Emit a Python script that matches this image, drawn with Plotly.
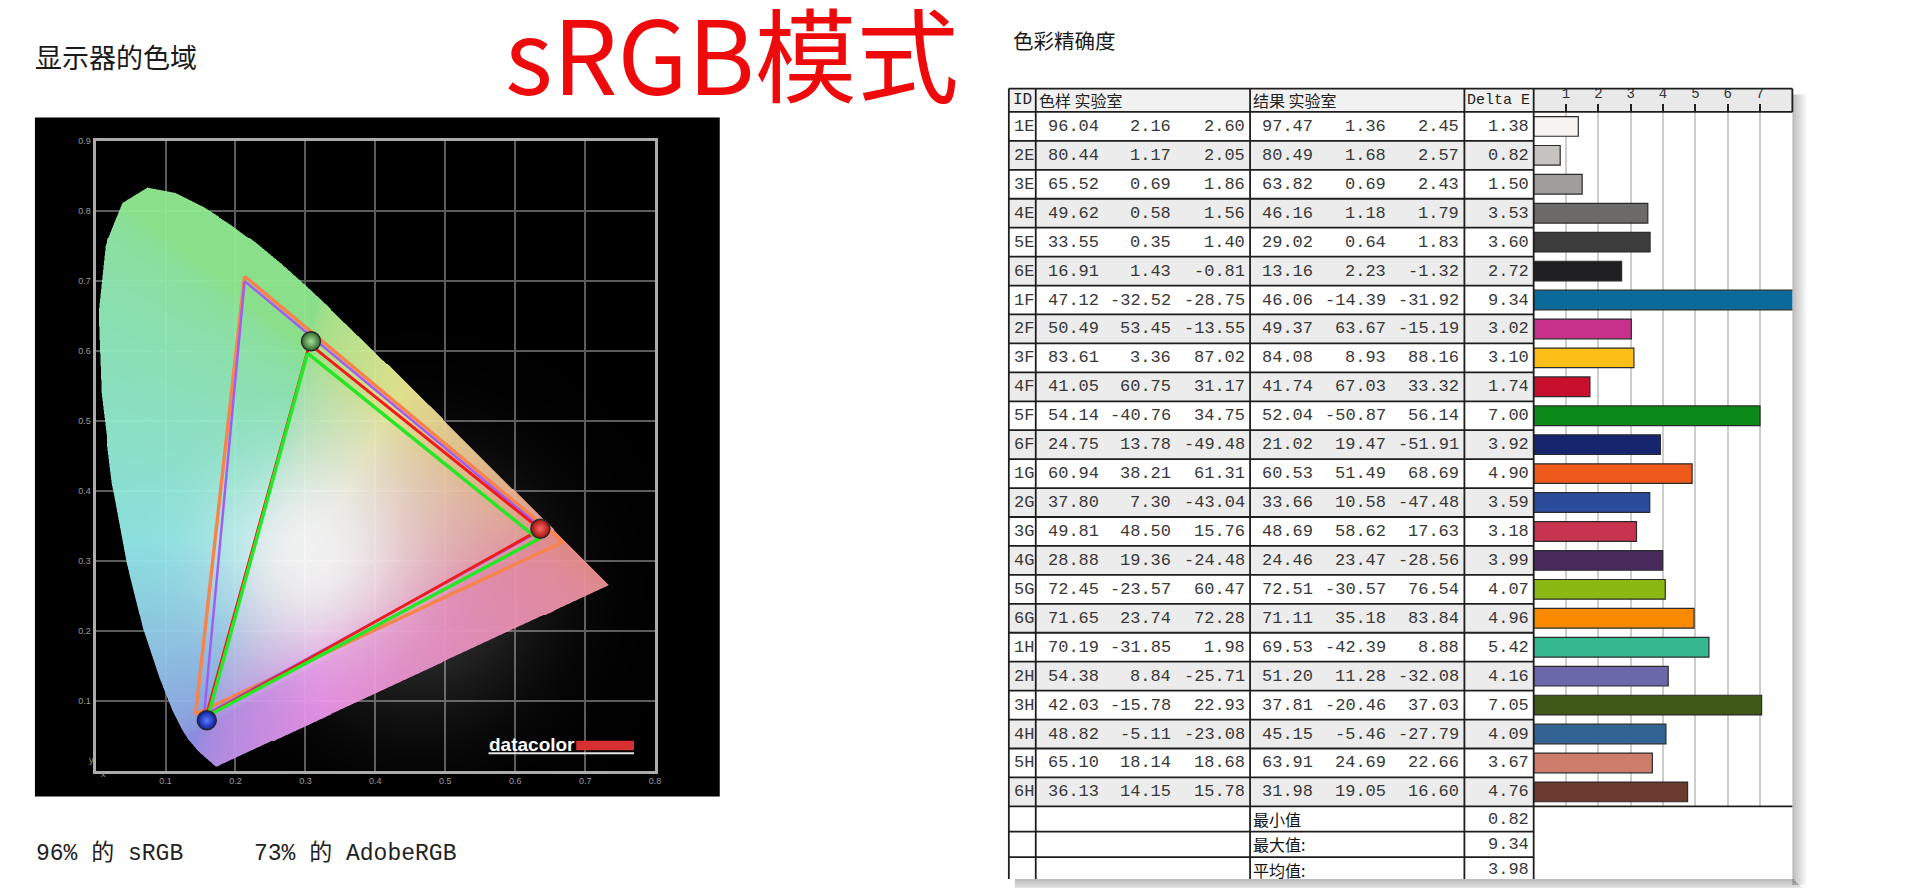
import base64, struct, zlib
import numpy as np
import plotly.graph_objects as go

# page is 1920x896; the html body keeps an 8px margin, so the figure is drawn 8px in
PAGE_W, PAGE_H, OFF = 1920, 896, 8
W, H = PAGE_W - 2 * OFF, PAGE_H - 2 * OFF

# ---------------- data: gamut chart ----------------
# CIE 1931 spectral locus, 380-700 nm
locus_x = [0.1741,0.1740,0.1738,0.1736,0.1733,0.1730,0.1726,0.1721,0.1714,0.1703,
           0.1689,0.1669,0.1644,0.1611,0.1566,0.1510,0.1440,0.1355,0.1241,0.1096,
           0.0913,0.0687,0.0454,0.0235,0.0082,0.0039,0.0139,0.0389,0.0743,0.1142,
           0.1547,0.1929,0.2296,0.2658,0.3016,0.3373,0.3731,0.4087,0.4441,0.4788,
           0.5125,0.5448,0.5752,0.6029,0.6270,0.6482,0.6658,0.6801,0.6915,0.7006,
           0.7079,0.7140,0.7190,0.7230,0.7260,0.7283,0.7300,0.7311,0.7320,
           0.7334,0.7344,0.7347]
locus_y = [0.0050,0.0050,0.0049,0.0049,0.0048,0.0048,0.0048,0.0048,0.0051,0.0058,
           0.0069,0.0086,0.0109,0.0138,0.0177,0.0227,0.0297,0.0399,0.0578,0.0868,
           0.1327,0.2007,0.2950,0.4127,0.5384,0.6548,0.7502,0.8120,0.8338,0.8262,
           0.8059,0.7816,0.7543,0.7243,0.6923,0.6589,0.6245,0.5896,0.5547,0.5202,
           0.4866,0.4544,0.4242,0.3965,0.3725,0.3514,0.3340,0.3197,0.3083,0.2993,
           0.2920,0.2859,0.2809,0.2770,0.2740,0.2717,0.2700,0.2689,0.2680,
           0.2666,0.2656,0.2653]

orange_x = [0.213, 0.668, 0.143]
orange_y = [0.707, 0.327, 0.081]
purple_x = [0.213, 0.640, 0.155]
purple_y = [0.700, 0.345, 0.079]
red_x = [0.306, 0.636, 0.158]
red_y = [0.610, 0.345, 0.078]
green_x = [0.303, 0.633, 0.161]
green_y = [0.597, 0.331, 0.079]

ball_x = [0.636, 0.308, 0.159]
ball_y = [0.346, 0.614, 0.072]
ball_edge = ["#a01010", "#2c6a2c", "#0c1c9a"]
ball_core = ["#ff6a60", "#a8e098", "#5a7cff"]

gamut_x_ticks = [0.1, 0.2, 0.3, 0.4, 0.5, 0.6, 0.7, 0.8]
gamut_y_ticks = [0.1, 0.2, 0.3, 0.4, 0.5, 0.6, 0.7, 0.8, 0.9]
gamut_coverage = ["96% 的 sRGB", "73% 的 AdobeRGB"]

# ---------------- data: colour accuracy table ----------------
ids = ["1E","2E","3E","4E","5E","6E","1F","2F","3F","4F","5F","6F",
       "1G","2G","3G","4G","5G","6G","1H","2H","3H","4H","5H","6H"]
ref_L = [96.04,80.44,65.52,49.62,33.55,16.91,47.12,50.49,83.61,41.05,54.14,24.75,
         60.94,37.80,49.81,28.88,72.45,71.65,70.19,54.38,42.03,48.82,65.10,36.13]
ref_a = [2.16,1.17,0.69,0.58,0.35,1.43,-32.52,53.45,3.36,60.75,-40.76,13.78,
         38.21,7.30,48.50,19.36,-23.57,23.74,-31.85,8.84,-15.78,-5.11,18.14,14.15]
ref_b = [2.60,2.05,1.86,1.56,1.40,-0.81,-28.75,-13.55,87.02,31.17,34.75,-49.48,
         61.31,-43.04,15.76,-24.48,60.47,72.28,1.98,-25.71,22.93,-23.08,18.68,15.78]
res_L = [97.47,80.49,63.82,46.16,29.02,13.16,46.06,49.37,84.08,41.74,52.04,21.02,
         60.53,33.66,48.69,24.46,72.51,71.11,69.53,51.20,37.81,45.15,63.91,31.98]
res_a = [1.36,1.68,0.69,1.18,0.64,2.23,-14.39,63.67,8.93,67.03,-50.87,19.47,
         51.49,10.58,58.62,23.47,-30.57,35.18,-42.39,11.28,-20.46,-5.46,24.69,19.05]
res_b = [2.45,2.57,2.43,1.79,1.83,-1.32,-31.92,-15.19,88.16,33.32,56.14,-51.91,
         68.69,-47.48,17.63,-28.56,76.54,83.84,8.88,-32.08,37.03,-27.79,22.66,16.60]
delta_e = [1.38,0.82,1.50,3.53,3.60,2.72,9.34,3.02,3.10,1.74,7.00,3.92,
           4.90,3.59,3.18,3.99,4.07,4.96,5.42,4.16,7.05,4.09,3.67,4.76]
bar_colors = ["#f6f3f0","#c6c3c1","#a09e9c","#6b6a69","#3e3d3d","#1f1f21",
              "#0a6b9b","#c8318b","#fdbf17","#c8102e","#0b8a1a","#15256e",
              "#ee5a1c","#2a4c9a","#c8334f","#4a2a5c","#8cb814","#fb8a00",
              "#35b88e","#6a67aa","#3f5a18","#336393","#cf7d6b","#6a3a30"]
header_labels = ["ID", "色样 实验室", "结果 实验室", "Delta E"]
summary_labels = ["最小值", "最大值:", "平均值:"]
summary_values = [0.82, 9.34, 3.98]
bar_ticks = [1, 2, 3, 4, 5, 6, 7]

# ---------------- layout constants (page pixels) ----------------
MONO = "Liberation Mono, DejaVu Sans Mono, monospace"
CJK = "Noto Sans CJK SC"
GX0, GX1 = 95, 658          # gamut plot frame x
GY0, GY1 = 770, 137         # gamut plot y (value 0 / value 0.9)
X_MAX, Y_MAX = 0.8, 0.9

TL = [1012, 1039, 1254, 1469, 1538.5, 1798]   # table column borders
HEAD_TOP = 84
ROW_TOP = 107.5
ROW_H = 29.1
ROW_BOTTOM = ROW_TOP + len(ids) * ROW_H
SUM_H = 25.5
TABLE_BOTTOM = 879
NUM_RIGHT = [1104, 1177, 1251, 1319.5, 1392.5, 1466, 1536]


def px(x):
    return (x - OFF) / W


def py(y):
    return 1 - (y - OFF) / H


# ---------------- chromaticity background image ----------------
NX, NY, SS = 564, 634, 2
pdx, pdy = X_MAX / NX, Y_MAX / NY
sx = (np.arange(NX * SS) + 0.5) * (pdx / SS)
sy = Y_MAX - (np.arange(NY * SS) + 0.5) * (pdy / SS)
SX, SY = np.meshgrid(sx, sy)
inside = np.zeros(SX.shape, dtype=bool)
lx, ly = np.asarray(locus_x), np.asarray(locus_y)
for i in range(len(lx)):
    x1, y1, x2, y2 = lx[i], ly[i], lx[i - 1], ly[i - 1]
    if y1 == y2:
        continue
    cond = (y1 > SY) != (y2 > SY)
    xint = x1 + (SY - y1) * (x2 - x1) / (y2 - y1)
    inside ^= cond & (SX < xint)
cov = inside.reshape(NY, SS, NX, SS).mean(axis=(1, 3))

cx = (np.arange(NX) + 0.5) * pdx
cy = Y_MAX - (np.arange(NY) + 0.5) * pdy
CX, CY = np.meshgrid(cx, cy)
Ys = np.maximum(CY, 1e-4)
Xc = CX / Ys
Zc = (1 - CX - CY) / Ys
r = 3.2406 * Xc - 1.5372 - 0.4986 * Zc
g = -0.9689 * Xc + 1.8758 + 0.0415 * Zc
b = 0.0557 * Xc - 0.2040 + 1.0570 * Zc
rgb = np.clip(np.stack([r, g, b], -1), 0, None)
rgb = rgb / np.maximum(rgb.max(-1, keepdims=True), 1e-6)
rgb = rgb ** (1 / 2.2)
rgb = 1 - (1 - rgb) * 0.38
rgb *= 0.92
glow = 0.95 * np.exp(-((CX - 0.31) ** 2 + (CY - 0.31) ** 2) / (2 * 0.09 ** 2))
rgb = rgb + (1 - rgb) * glow[..., None]
haze = 0.22 * np.exp(-((CX - 0.46) ** 2 + (CY - 0.26) ** 2) / (2 * 0.12 ** 2))
a_in = 0.95 * cov
a_h = (1 - cov) * haze
alpha = a_in + a_h
col = (rgb * a_in[..., None] + a_h[..., None]) / np.maximum(alpha, 1e-6)[..., None]
rgba = np.concatenate([col, alpha[..., None]], -1)
rgba = np.clip(np.round(rgba * 255), 0, 255).astype(np.uint8)
rgba = np.ascontiguousarray(rgba[::-1])   # plotly flips rows for a negative dy


def png_uri(arr):
    h, w, _ = arr.shape
    raw = b"".join(b"\x00" + arr[i].tobytes() for i in range(h))

    def chunk(t, d):
        return struct.pack(">I", len(d)) + t + d + struct.pack(">I", zlib.crc32(t + d) & 0xFFFFFFFF)

    data = (b"\x89PNG\r\n\x1a\n" + chunk(b"IHDR", struct.pack(">IIBBBBB", w, h, 8, 6, 0, 0, 0))
            + chunk(b"IDAT", zlib.compress(raw, 9)) + chunk(b"IEND", b""))
    return "data:image/png;base64," + base64.b64encode(data).decode()


fig = go.Figure()

fig.add_trace(go.Image(source=png_uri(rgba), x0=pdx / 2, y0=Y_MAX - pdy / 2, dx=pdx, dy=-pdy,
                       xaxis="x", yaxis="y", hoverinfo="skip"))

for xs, ys, c, w in [(orange_x, orange_y, "#f7844f", 3.5), (purple_x, purple_y, "#a25cf2", 2.5),
                     (red_x, red_y, "#f01c1c", 3.0), (green_x, green_y, "#27e627", 3.5)]:
    fig.add_trace(go.Scatter(x=xs + xs[:1], y=ys + ys[:1], mode="lines",
                             line=dict(color=c, width=w), xaxis="x", yaxis="y", hoverinfo="skip"))

fig.add_trace(go.Scatter(x=ball_x, y=ball_y, mode="markers", xaxis="x", yaxis="y",
                         marker=dict(size=19, color=ball_edge,
                                     gradient=dict(type="radial", color=ball_core),
                                     line=dict(color="#2a2a2a", width=1.5)),
                         hoverinfo="skip"))

# ---------------- table traces ----------------
row_fill = ["#ffffff" if i % 2 == 0 else "#ececec" for i in range(len(ids))]
fig.add_trace(go.Bar(y=ids, x=[TL[4] - TL[0]] * len(ids), base=[TL[0]] * len(ids),
                     orientation="h", width=1.0, marker=dict(color=row_fill, line=dict(width=0)),
                     xaxis="x2", yaxis="y2", hoverinfo="skip"))

fig.add_trace(go.Bar(y=ids, x=delta_e, orientation="h", width=0.68,
                     marker=dict(color=bar_colors, line=dict(color="#2b2b2b", width=1.2)),
                     xaxis="x3", yaxis="y3", hoverinfo="skip"))

annotations = []
shapes = []

# black chart background
shapes.append(dict(type="rect", xref="paper", yref="paper", x0=px(35), x1=px(722), y0=py(796), y1=py(113),
                   fillcolor="black", line=dict(width=0), layer="below"))

# table header fills
shapes.append(dict(type="rect", xref="paper", yref="paper", x0=px(TL[0]), x1=px(TL[4]), y0=py(ROW_TOP), y1=py(HEAD_TOP),
                   fillcolor="#f1f1f1", line=dict(width=0), layer="below"))
shapes.append(dict(type="rect", xref="paper", yref="paper", x0=px(TL[4]), x1=px(TL[5]), y0=py(ROW_TOP), y1=py(HEAD_TOP),
                   fillcolor="#e9e9e9", line=dict(width=0), layer="below"))

# shadows
for k in range(7):
    a = 0.26 * (1 - k / 7)
    shapes.append(dict(type="rect", xref="paper", yref="paper", x0=px(TL[5] + 2 * k), x1=px(TL[5] + 2 * k + 2),
                       y0=py(TABLE_BOTTOM + 6), y1=py(HEAD_TOP + 6), fillcolor=f"rgba(0,0,0,{a:.3f})",
                       line=dict(width=0), layer="below"))
    shapes.append(dict(type="rect", xref="paper", yref="paper", x0=px(TL[0] + 6), x1=px(TL[5] + 2 * k + 2),
                       y0=py(TABLE_BOTTOM + 2 * k + 2), y1=py(TABLE_BOTTOM + 2 * k),
                       fillcolor=f"rgba(0,0,0,{a:.3f})", line=dict(width=0), layer="below"))

LINE = dict(color="#1e1e1e", width=1.8)


def hline(y, x0, x1):
    shapes.append(dict(type="line", xref="paper", yref="paper", x0=px(x0), x1=px(x1), y0=py(y), y1=py(y), line=LINE))


def vline(x, y0, y1):
    shapes.append(dict(type="line", xref="paper", yref="paper", x0=px(x), x1=px(x), y0=py(y0), y1=py(y1), line=LINE))


hline(HEAD_TOP, TL[0], TL[5])
hline(ROW_TOP, TL[0], TL[5])
for k in range(1, len(ids)):
    shapes.append(dict(type="line", xref="paper", yref="y2", x0=px(TL[0]), x1=px(TL[4]),
                       y0=k - 0.5, y1=k - 0.5, line=LINE))
hline(ROW_BOTTOM, TL[0], TL[5])
for k in range(1, len(summary_labels)):
    hline(ROW_BOTTOM + k * SUM_H, TL[0], TL[4])
for x in TL[:5]:
    vline(x, HEAD_TOP, TABLE_BOTTOM)
vline(TL[5], HEAD_TOP, ROW_TOP)

# table cell text
cols = [ref_L, ref_a, ref_b, res_L, res_a, res_b, delta_e]
TXT = dict(family=MONO, size=17, color="#383838")
for i, rid in enumerate(ids):
    annotations.append(dict(xref="x2", yref="y2", x=1015, y=rid, text=rid, xanchor="left",
                            yanchor="middle", showarrow=False, font=TXT))
    for vals, xr in zip(cols, NUM_RIGHT):
        annotations.append(dict(xref="x2", yref="y2", x=xr, y=rid, text=f"{vals[i]:.2f}",
                                xanchor="right", yanchor="middle", showarrow=False, font=TXT))

# header
head_y = py((HEAD_TOP + ROW_TOP) / 2)
annotations.append(dict(xref="paper", yref="paper", x=px(1014), y=head_y, text=header_labels[0], xanchor="left",
                        yanchor="middle", showarrow=False, font=dict(family=MONO, size=16, color="#222")))
annotations.append(dict(xref="paper", yref="paper", x=px(1040), y=head_y, text=header_labels[1], xanchor="left",
                        yanchor="middle", showarrow=False, font=dict(family=CJK, size=16, color="#222")))
annotations.append(dict(xref="paper", yref="paper", x=px(1255), y=head_y, text=header_labels[2], xanchor="left",
                        yanchor="middle", showarrow=False, font=dict(family=CJK, size=16, color="#222")))
annotations.append(dict(xref="paper", yref="paper", x=px(1470), y=head_y, text=header_labels[3], xanchor="left",
                        yanchor="middle", showarrow=False, font=dict(family=MONO, size=15, color="#222")))

# summary rows
for k, (lab, val) in enumerate(zip(summary_labels, summary_values)):
    yc = py(ROW_BOTTOM + (k + 0.5) * SUM_H)
    annotations.append(dict(xref="paper", yref="paper", x=px(1255), y=yc, text=lab, xanchor="left",
                            yanchor="middle", showarrow=False, font=dict(family=CJK, size=16, color="#111")))
    annotations.append(dict(xref="paper", yref="paper", x=px(NUM_RIGHT[-1]), y=yc, text=f"{val:.2f}",
                            xanchor="right", yanchor="middle", showarrow=False, font=TXT))

# titles
annotations.append(dict(xref="paper", yref="paper", x=px(33), y=py(52), text="显示器的色域", xanchor="left",
                        yanchor="middle", showarrow=False, font=dict(family=CJK, size=27, color="#1a1a1a")))
annotations.append(dict(xref="paper", yref="paper", x=px(505), y=py(46), text="sRGB模式", xanchor="left",
                        yanchor="middle", showarrow=False, font=dict(family=CJK, size=102, color="#ee0a0a")))
annotations.append(dict(xref="paper", yref="paper", x=px(1014), y=py(35), text="色彩精确度", xanchor="left",
                        yanchor="middle", showarrow=False, font=dict(family=CJK, size=20.5, color="#1a1a1a")))

# coverage text
for txt, xl in zip(gamut_coverage, [34, 253]):
    annotations.append(dict(xref="paper", yref="paper", x=px(xl), y=py(853), text=txt, xanchor="left",
                            yanchor="middle", showarrow=False,
                            font=dict(family=MONO + ", " + CJK, size=23, color="#222")))

# axis letters
annotations.append(dict(xref="x", yref="paper", x=0.011, y=py(780), text="x", showarrow=False,
                        font=dict(family="Liberation Sans", size=9, color="#9c9c9c")))
annotations.append(dict(xref="paper", yref="y", x=px(87), y=0.015, text="y", showarrow=False,
                        font=dict(family="Liberation Sans", size=9, color="#9c9c9c")))

# datacolor logo
annotations.append(dict(xref="paper", yref="paper", x=px(489), y=py(744), text="<b>datacolor</b>", xanchor="left",
                        yanchor="middle", showarrow=False,
                        font=dict(family="Liberation Sans", size=19, color="white")))
shapes.append(dict(type="rect", xref="paper", yref="paper", x0=px(578), x1=px(636), y0=py(749.5), y1=py(740),
                   fillcolor="#d63030", line=dict(width=0)))
shapes.append(dict(type="line", xref="paper", yref="paper", x0=px(490), x1=px(636), y0=py(752.5), y1=py(752.5),
                   line=dict(color="#e4e4e4", width=2)))

tickfont_g = dict(family="Liberation Sans", size=9, color="#9c9c9c")
fig.update_layout(
    width=W, height=H, autosize=False, margin=dict(l=0, r=0, t=0, b=0),
    paper_bgcolor="white", plot_bgcolor="rgba(0,0,0,0)", showlegend=False, barmode="overlay",
    xaxis=dict(domain=[px(GX0), px(GX1)], range=[0, X_MAX], anchor="y",
               tickvals=gamut_x_ticks, ticktext=[f"{v:.1f}" for v in gamut_x_ticks],
               showgrid=True, gridcolor="#5c5c5c", gridwidth=1.5, zeroline=False,
               showline=True, mirror=True, linecolor="#acacac", linewidth=3, ticks="",
               tickfont=tickfont_g),
    yaxis=dict(domain=[py(GY0), py(GY1)], range=[0, Y_MAX], anchor="x",
               tickvals=gamut_y_ticks, ticktext=[f"{v:.1f}" for v in gamut_y_ticks],
               showgrid=True, gridcolor="#5c5c5c", gridwidth=1.5, zeroline=False,
               showline=True, mirror=True, linecolor="#acacac", linewidth=3, ticks="",
               tickfont=tickfont_g),
    xaxis2=dict(domain=[px(TL[0]), px(TL[4])], range=[TL[0], TL[4]], anchor="y2", visible=False),
    yaxis2=dict(domain=[py(ROW_BOTTOM), py(ROW_TOP)], anchor="x2", type="category",
                categoryorder="array", categoryarray=ids, range=[len(ids) - 0.5, -0.5], visible=False),
    xaxis3=dict(domain=[px(TL[4]), px(TL[5])], range=[0, 8], anchor="y3", side="top",
                tickvals=bar_ticks, ticks="outside", ticklen=7, tickwidth=1.5, tickcolor="#222",
                tickfont=dict(family=MONO, size=14, color="#333"),
                showgrid=True, gridcolor="#cdcdcd", gridwidth=1.5, zeroline=False, showline=False),
    yaxis3=dict(domain=[py(ROW_BOTTOM), py(ROW_TOP)], anchor="x3", type="category",
                categoryorder="array", categoryarray=ids, range=[len(ids) - 0.5, -0.5], visible=False),
    shapes=shapes, annotations=annotations,
)

fig.write_html("out.html")
